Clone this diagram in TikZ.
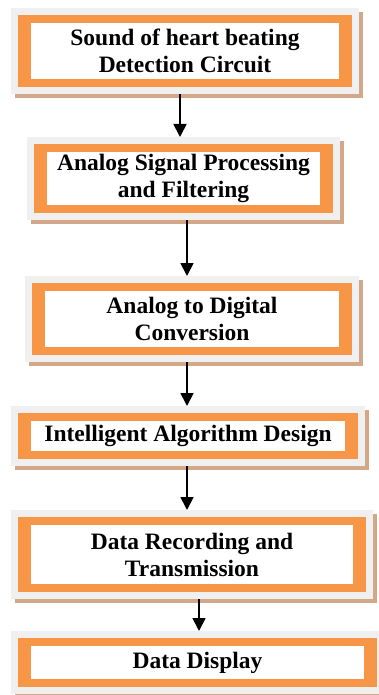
\documentclass[tikz,border=0pt]{standalone}
\usepackage{fontspec}
\setmainfont{Liberation Serif}
\usepackage{tikz}
\usetikzlibrary{arrows.meta, positioning}

\definecolor{boxorange}{HTML}{F79646}
\definecolor{boxgray}{HTML}{F0F0F0}
\definecolor{boxshadow}{HTML}{D2A888}

\tikzset{
    stage/.style={
        rectangle, fill=boxorange, align=center, inner sep=0pt, outer sep=7pt,
        font=\bfseries\fontsize{23.5}{27}\selectfont,
        preaction={draw=boxshadow, line width=14pt, transform canvas={shift={(4pt,-4pt)}}},
        preaction={draw=boxgray, line width=14pt},
        path picture={
            \fill[white] ([shift={(13pt,8pt)}]path picture bounding box.south west)
                rectangle ([shift={(-13pt,-8pt)}]path picture bounding box.north east);
        }
    },
    flow/.style={line width=1.8pt, -{Triangle[width=13pt,length=13pt]}}
}

\begin{document}
\begin{tikzpicture}[x=1pt, y=-1pt]
    \useasboundingbox (0,0) rectangle (379,695);

    \node[stage, minimum width=334pt, minimum height=72pt] (sound) at (185,51)
        {Sound of heart beating\\Detection Circuit};
    \node[stage, minimum width=299pt, minimum height=69pt] (filter) at (183.5,178.5)
        {Analog Signal Processing\\and Filtering};
    \node[stage, minimum width=320pt, minimum height=72pt] (adc) at (192,319)
        {Analog to Digital\\Conversion};
    \node[stage, minimum width=340pt, minimum height=46pt] (algo) at (188,436)
        {Intelligent Algorithm Design};
    \node[stage, minimum width=348pt, minimum height=75pt] (record) at (192,554.5)
        {Data Recording and\\Transmission};
    \node[stage, minimum width=359pt, minimum height=49pt] (display) at (197.5,662.5)
        {Data Display};

    % arrows between the stages
    \draw[flow] ([xshift=-5pt]sound.south) -- ([xshift=-5pt]sound.south |- filter.north);
    \draw[flow] ([xshift=3.5pt]filter.south) -- ([xshift=3.5pt]filter.south |- adc.north);
    \draw[flow] ([xshift=-5pt]adc.south) -- ([xshift=-5pt]adc.south |- algo.north);
    \draw[flow] ([xshift=-1pt]algo.south) -- ([xshift=-1pt]algo.south |- record.north);
    \draw[flow] ([xshift=7pt]record.south) -- ([xshift=7pt]record.south |- display.north);
\end{tikzpicture}
\end{document}
